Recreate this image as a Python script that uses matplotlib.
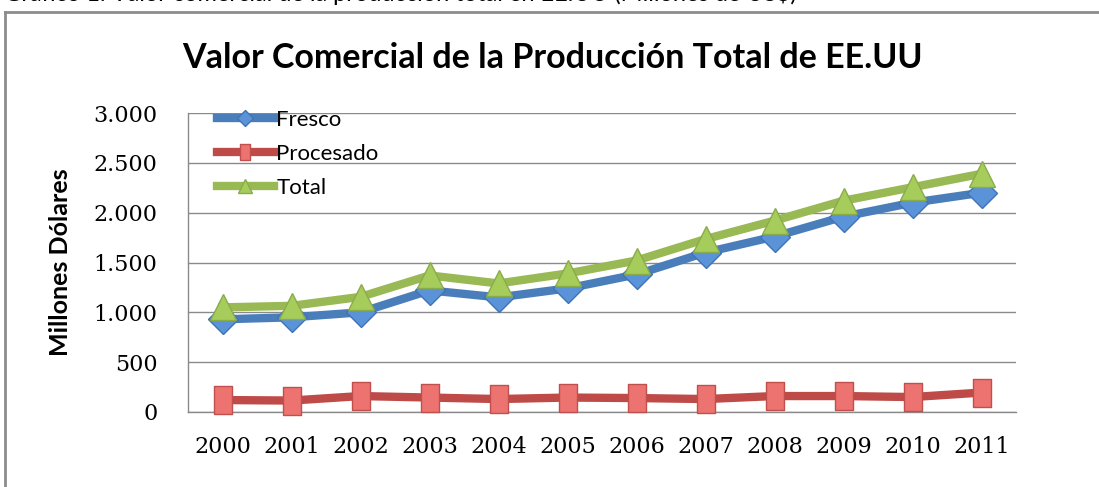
from matplotlib import pyplot as plt
from matplotlib.lines import Line2D
import numpy as np

# data (millones de dolares)
years = ['2000', '2001', '2002', '2003', '2004', '2005',
         '2006', '2007', '2008', '2009', '2010', '2011']
fresco = [930, 950, 1000, 1220, 1150, 1240, 1380, 1600, 1760, 1960, 2100, 2200]
procesado = [120, 115, 160, 145, 130, 145, 140, 130, 160, 160, 150, 195]
total = [1050, 1065, 1155, 1370, 1290, 1390, 1520, 1735, 1920, 2120, 2255, 2390]
yticks = [0, 500, 1000, 1500, 2000, 2500, 3000]
ytick_labels = ['0', '500', '1.000', '1.500', '2.000', '2.500', '3.000']

W, H = 1099, 487
fig = plt.figure(figsize=(W / 100, H / 100), dpi=100)
ax = fig.add_axes([188 / W, 1 - 412 / H, (1016 - 188) / W, (412 - 113) / H])

x = np.arange(len(years))

# slightly taller-than-wide square, like the stretched Excel markers
sq = [(-0.68, -1), (0.68, -1), (0.68, 1), (-0.68, 1), (-0.68, -1)]

ax.plot(x, fresco, color='#4a7ebb', lw=6, marker='D', ms=15,
        mfc='#5b93d8', mec='#3f73b5', mew=1, label='Fresco', zorder=3,
        clip_on=False)
ax.plot(x, procesado, color='#be4b48', lw=6, marker=sq, ms=20,
        mfc='#ec7370', mec='#c0504d', mew=1, label='Procesado', zorder=3,
        clip_on=False)
ax.plot(x, total, color='#98b954', lw=6, marker='^', ms=19,
        mfc='#a6cc5c', mec='#8aac48', mew=1, label='Total', zorder=4,
        clip_on=False)

ax.set_xlim(-0.5, 11.5)
ax.set_ylim(0, 3000)
ax.set_xticks(x)
ax.set_xticklabels(years, family='DejaVu Serif', fontsize=16)
ax.set_yticks(yticks)
ax.set_yticklabels(ytick_labels, family='DejaVu Serif', fontsize=16)
ax.tick_params(axis='x', length=0, pad=17)
ax.tick_params(axis='y', length=0, pad=22)
ax.grid(axis='y', color='#8a8a8a', lw=1)
ax.set_axisbelow(True)
for s in ['top', 'right']:
    ax.spines[s].set_visible(False)
for s in ['left', 'bottom']:
    ax.spines[s].set_color('#8a8a8a')
    ax.spines[s].set_linewidth(1)

ax.set_ylabel('Millones Dólares', family='Lato', fontweight='bold',
              fontsize=18, labelpad=0)
ax.yaxis.set_label_coords(-(188 - 72) / (1016 - 188), 0.5)

leg = ax.legend(loc='upper left', bbox_to_anchor=(217 / W, 1 - 110 / H),
                bbox_transform=fig.transFigure, frameon=False,
                prop={'family': 'Lato', 'size': 16}, handlelength=2.55,
                handletextpad=0.12, labelspacing=0.62, borderpad=0,
                borderaxespad=0, markerscale=0.55)

fig.text(552 / W, 1 - 58 / H, 'Valor Comercial de la Producción Total de EE.UU',
         ha='center', va='center', family='Lato', fontweight='bold', fontsize=24.5)

# caption of the page, cut off at the top of the picture
fig.text(4 / W, 1 - 1 / H,
         'Gráfico 1. Valor comercial de la producción total en EE.UU (Millones de US$)',
         ha='left', va='baseline', family='Lato', fontsize=17)

# outer frame of the chart (right and bottom edges lie outside the picture)
fig.add_artist(Line2D([5 / W, 5 / W], [0, 1 - 12 / H], color='#8c8c8c', lw=2))
fig.add_artist(Line2D([5 / W, 1], [1 - 12 / H, 1 - 12 / H], color='#8c8c8c', lw=2))

fig.savefig('out.png', dpi=100)
